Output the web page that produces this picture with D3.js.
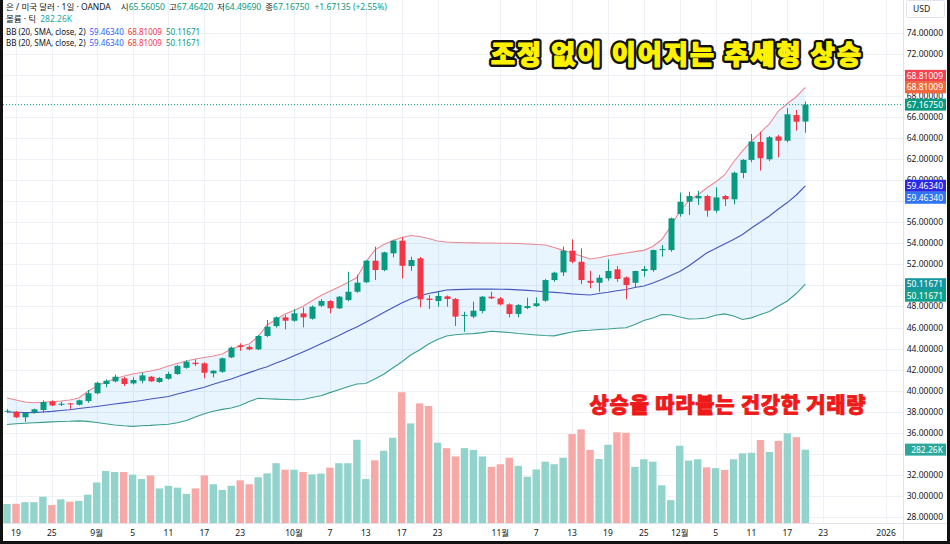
<!DOCTYPE html>
<html>
<head>
<meta charset="utf-8">
<script src="https://cdnjs.cloudflare.com/ajax/libs/d3/7.8.5/d3.min.js"></script>
<style>
  body { margin: 0; background: #fff; }
  svg { display: block; font-family: 'Noto Sans', 'Noto Sans CJK KR', sans-serif; }
</style>
</head>
<body>
<div id="chart"></div>
<script>
// Daily bars, Aug 18 - Dec 19 (index 0..89)
const opens = [38.05, 38.0, 37.48, 37.95, 38.17, 38.99, 38.72, 38.8, 38.67, 39.02,
  39.76, 40.64, 40.89, 41.18, 40.70, 40.95, 41.33, 40.83, 41.14, 41.59,
  42.18, 42.66, 42.6, 41.65, 41.80, 43.17, 44.31, 44.16, 43.93, 45.2,
  46.14, 46.97, 46.65, 47.35, 46.84, 48.07, 48.52, 47.83, 48.61, 49.40,
  50.30, 52.35, 51.46, 53.05, 54.25, 51.84, 52.57, 48.75, 48.52, 48.96,
  48.72, 47.13, 47.04, 47.57, 48.93, 48.76, 48.2, 47.29, 47.86, 48.04,
  48.55, 50.51, 51.24, 53.3, 52.25, 50.44, 50.25, 50.67, 51.53, 50.76,
  50.25, 51.37, 51.46, 53.36, 53.36, 56.78, 57.95, 58.27, 58.49, 57.10,
  58.49, 58.18, 60.68, 61.92, 63.62, 61.98, 64.14, 63.74, 66.18, 65.5605];
const highs = [38.25, 38.08, 37.97, 38.3, 39.09, 39.1, 38.95, 38.85, 39.15, 40.07,
  40.85, 41.08, 41.52, 41.3, 41.27, 41.71, 41.4, 41.3, 41.8, 42.45,
  42.9, 42.98, 42.7, 41.95, 43.15, 44.2, 44.5, 44.3, 45.3, 46.72,
  47.05, 47.19, 47.76, 47.92, 48.1, 48.7, 48.6, 49.0, 51.30, 51.0,
  52.4, 53.68, 53.2, 54.35, 54.57, 52.72, 52.7, 49.08, 49.4, 49.05,
  48.8, 47.5, 48.45, 49.0, 49.4, 48.9, 48.3, 48.23, 48.83, 48.87,
  50.6, 51.3, 53.68, 54.38, 53.52, 51.39, 51.0, 52.48, 51.84, 50.85,
  51.4, 51.84, 53.4, 53.84, 56.45, 58.81, 58.9, 58.99, 58.6, 59.32,
  58.6, 60.8, 62.0, 64.38, 64.6, 64.2, 64.3, 66.82, 66.66, 67.4642];
const lows = [37.9, 37.4, 37.05, 37.85, 37.91, 38.55, 38.55, 38.24, 38.6, 38.86,
  39.66, 40.32, 40.8, 40.45, 40.6, 40.7, 40.85, 40.75, 41.05, 41.5,
  42.1, 42.35, 41.18, 41.27, 41.7, 43.1, 43.8, 43.85, 43.85, 45.1,
  46.0, 45.83, 46.55, 46.02, 46.75, 47.95, 47.35, 47.75, 48.5, 49.3,
  50.2, 50.51, 51.35, 52.67, 50.67, 51.39, 47.92, 47.76, 47.98, 47.98,
  46.15, 45.6, 46.9, 47.35, 48.7, 48.1, 46.97, 46.97, 47.75, 47.95,
  48.45, 50.35, 50.89, 52.1, 50.13, 49.73, 49.4, 50.45, 50.35, 48.68,
  49.82, 50.83, 51.3, 52.73, 53.2, 56.53, 56.69, 57.64, 56.53, 56.9,
  57.54, 57.7, 60.17, 61.7, 60.9, 61.8, 62.17, 63.6, 64.69, 64.4969];
const closes = [38.1, 37.48, 37.91, 38.24, 38.93, 38.61, 38.76, 38.75, 39.09, 39.76,
  40.76, 40.95, 41.33, 40.64, 41.02, 41.46, 40.89, 41.21, 41.59, 42.35,
  42.75, 42.53, 41.71, 41.9, 43.08, 44.09, 44.15, 43.93, 45.2, 46.08,
  46.97, 46.65, 47.35, 46.97, 47.98, 48.52, 47.83, 48.93, 49.40, 50.26,
  52.35, 51.46, 53.14, 54.25, 51.87, 52.41, 48.68, 48.62, 49.0, 48.71,
  47.04, 47.2, 47.6, 48.93, 48.78, 48.2, 47.29, 48.14, 48.04, 48.3,
  50.51, 51.21, 53.30, 52.25, 50.51, 50.25, 50.73, 51.37, 50.61, 50.04,
  51.37, 51.56, 53.36, 53.45, 56.37, 57.95, 58.49, 58.49, 57.10, 58.36,
  58.18, 60.70, 61.92, 63.66, 62.08, 64.07, 63.74, 66.25, 65.55, 67.1675];
// Volume in K ticks
const volumes = [73, 74, 80, 80, 101, 69, 91, 82, 85, 109,
  156, 200, 196, 196, 186, 169, 183, 133, 143, 136,
  112, 133, 183, 149, 127, 143, 164, 149, 176, 191,
  230, 205, 205, 196, 187, 190, 213, 230, 230, 320,
  169, 241, 278, 328, 503, 383, 460, 450, 309, 288,
  256, 288, 281, 256, 216, 226, 251, 220, 178, 206,
  236, 226, 251, 342, 360, 281, 246, 301, 349, 347,
  216, 245, 236, 145, 88, 297, 240, 245, 214, 211,
  204, 245, 268, 270, 319, 273, 316, 345, 330, 282.26];
// Bollinger bands (20, 2)
const bbUpper = [39.31, 39.12, 38.93, 38.86, 38.90, 38.96, 39.02, 39.12, 39.31, 39.92,
  40.45, 40.83, 41.14, 41.37, 41.59, 41.73, 41.87, 42.06, 42.35, 42.58,
  42.82, 43.01, 43.16, 43.30, 43.49, 43.96, 44.22, 44.44, 45.15, 46.24,
  46.77, 47.28, 47.62, 48.03, 48.54, 49.04, 49.44, 49.85, 50.28, 50.75,
  52.22, 53.36, 53.89, 54.25, 54.55, 54.74, 54.64, 54.46, 54.22, 54.12,
  54.08, 54.05, 54.04, 54.03, 54.03, 54.01, 54.00, 53.98, 53.93, 53.89,
  53.84, 53.60, 53.33, 53.08, 52.79, 52.51, 52.63, 52.82, 52.95, 53.08,
  53.21, 53.33, 53.70, 54.36, 55.58, 57.07, 58.02, 58.59, 59.25, 59.82,
  60.49, 61.72, 62.77, 63.71, 64.52, 65.33, 66.56, 67.28, 67.92, 68.81009];
const bbMiddle = [37.98, 37.95, 37.93, 37.92, 37.98, 38.04, 38.12, 38.19, 38.31, 38.41,
  38.51, 38.62, 38.74, 38.85, 38.96, 39.07, 39.21, 39.34, 39.46, 39.69,
  39.91, 40.11, 40.34, 40.61, 40.87, 41.12, 41.42, 41.72, 42.01, 42.28,
  42.63, 42.94, 43.32, 43.68, 44.06, 44.46, 44.85, 45.24, 45.67, 46.05,
  46.51, 46.95, 47.43, 47.87, 48.33, 48.71, 48.99, 49.23, 49.39, 49.56,
  49.60, 49.63, 49.65, 49.66, 49.65, 49.64, 49.63, 49.58, 49.53, 49.47,
  49.40, 49.34, 49.28, 49.20, 49.14, 49.09, 49.23, 49.35, 49.49, 49.62,
  49.80, 49.95, 50.23, 50.56, 50.94, 51.32, 51.84, 52.46, 53.08, 53.51,
  53.93, 54.36, 54.84, 55.45, 56.02, 56.59, 57.26, 57.87, 58.59, 59.4634];
const bbLower = [36.79, 36.86, 36.91, 36.96, 37.00, 37.04, 37.08, 37.10, 37.14, 37.09,
  36.98, 36.86, 36.74, 36.67, 36.62, 36.67, 36.71, 36.77, 36.82, 36.96,
  37.17, 37.50, 37.81, 38.05, 38.23, 38.36, 38.60, 38.98, 39.28, 39.24,
  39.20, 39.17, 39.14, 39.17, 39.35, 39.52, 39.82, 40.10, 40.37, 40.64,
  40.69, 41.11, 41.56, 42.16, 42.73, 43.39, 43.87, 44.44, 44.86, 45.20,
  45.32, 45.39, 45.42, 45.52, 45.65, 45.59, 45.53, 45.44, 45.37, 45.30,
  45.24, 45.21, 45.40, 45.58, 45.71, 45.75, 45.81, 45.86, 45.93, 45.98,
  46.29, 46.67, 46.91, 47.24, 47.21, 47.00, 46.81, 46.84, 46.91, 47.17,
  47.30, 47.09, 46.76, 46.92, 47.24, 47.52, 48.04, 48.52, 49.23, 50.11671];

// Time axis ticks (bar index) and labels
const tickIndex = [1, 5, 10, 14, 18, 22, 26, 32, 36, 40, 44, 48, 55, 59, 63, 67, 71, 75, 79, 83, 87, 91, 98];
const tickLabels = ['19', '25', '9월', '5', '11', '17', '23', '10월', '7', '13', '17', '23',
  '11월', '7', '13', '19', '25', '12월', '5', '11', '17', '23', '2026'];
// Price axis ticks
const priceTicks = d3.range(28, 75, 2);

drawChart();

function drawChart() {
  const w = 950;
  const h = 544;
  const plotLeft = 3;
  const plotRight = 903;
  const plotBottom = 523;

  const up = '#089981';
  const down = '#f23645';

  // Scales
  const xScale = d3.scaleLinear().domain([0, 89]).range([7, 805.3]);
  const yScale = d3.scaleLinear().domain([27.44, 77.105]).range([plotBottom, 0]);
  const volScale = d3.scaleLinear().domain([0, 520]).range([plotBottom, 387.8]);

  const bars = opens.map((o, i) => ({
    i: i, o: o, h: highs[i], l: lows[i], c: closes[i], v: volumes[i],
    up: closes[i] >= o
  }));

  const svg = d3.select('#chart')
      .append('svg')
      .attr('width', w)
      .attr('height', h);

  svg.append('rect').attr('width', w).attr('height', h).attr('fill', '#fff');

  svg.append('clipPath').attr('id', 'plot')
      .append('rect')
      .attr('x', plotLeft).attr('y', 0)
      .attr('width', plotRight - plotLeft).attr('height', plotBottom);

  // Grid
  const grid = svg.append('g').attr('clip-path', 'url(#plot)');
  grid.selectAll('.hg')
      .data(priceTicks)
      .enter()
      .append('line')
      .attr('x1', plotLeft).attr('x2', plotRight)
      .attr('y1', (d) => Math.round(yScale(d)) + 0.5)
      .attr('y2', (d) => Math.round(yScale(d)) + 0.5)
      .attr('stroke', '#eef1f6');
  grid.selectAll('.vg')
      .data(tickIndex)
      .enter()
      .append('line')
      .attr('y1', 0).attr('y2', plotBottom)
      .attr('x1', (d) => Math.round(xScale(d)) + 0.5)
      .attr('x2', (d) => Math.round(xScale(d)) + 0.5)
      .attr('stroke', '#eef1f6');

  const plot = svg.append('g').attr('clip-path', 'url(#plot)');

  // Volume
  plot.selectAll('.vol')
      .data(bars)
      .enter()
      .append('rect')
      .attr('x', (d) => xScale(d.i) - 3.7)
      .attr('width', 7.4)
      .attr('y', (d) => volScale(d.v))
      .attr('height', (d) => plotBottom - volScale(d.v))
      .attr('fill', (d) => d.up ? '#92d3cc' : '#f6a9a7');

  // Bollinger band fill and lines
  const area = d3.area()
      .x((d, i) => xScale(i))
      .y0((d, i) => yScale(bbLower[i]))
      .y1((d) => yScale(d));
  plot.append('path')
      .attr('d', area(bbUpper))
      .attr('fill', 'rgba(33,150,243,0.1)');

  const line = d3.line()
      .x((d, i) => xScale(i))
      .y((d) => yScale(d));
  [[bbUpper, '#eb8a90'], [bbMiddle, '#4656bd'], [bbLower, '#3a9e8f']].forEach(function(s) {
    plot.append('path')
        .attr('d', line(s[0]))
        .attr('fill', 'none')
        .attr('stroke', s[1])
        .attr('stroke-width', 1.1);
  });

  // Current price line
  plot.append('line')
      .attr('x1', plotLeft).attr('x2', plotRight)
      .attr('y1', yScale(67.1675)).attr('y2', yScale(67.1675))
      .attr('stroke', up)
      .attr('stroke-dasharray', '1,2');

  // Candles
  const candle = plot.selectAll('.candle')
      .data(bars)
      .enter()
      .append('g');
  candle.append('line')
      .attr('x1', (d) => Math.round(xScale(d.i)) + 0.5)
      .attr('x2', (d) => Math.round(xScale(d.i)) + 0.5)
      .attr('y1', (d) => yScale(d.h))
      .attr('y2', (d) => yScale(d.l))
      .attr('stroke', (d) => d.up ? up : down);
  candle.append('rect')
      .attr('x', (d) => Math.round(xScale(d.i)) - 2.5)
      .attr('width', 6)
      .attr('y', (d) => yScale(Math.max(d.o, d.c)))
      .attr('height', (d) => Math.max(1, Math.abs(yScale(d.o) - yScale(d.c))))
      .attr('fill', (d) => d.up ? up : down);

  // Axis borders
  svg.append('line')
      .attr('x1', plotRight + 0.5).attr('x2', plotRight + 0.5)
      .attr('y1', 0).attr('y2', h)
      .attr('stroke', '#e0e3eb');
  svg.append('line')
      .attr('x1', 0).attr('x2', w)
      .attr('y1', plotBottom + 0.5).attr('y2', plotBottom + 0.5)
      .attr('stroke', '#e0e3eb');

  // Last value badges
  const fmt = d3.format('.5f');
  const last = bars.length - 1;
  const badges = [
    {y: yScale(bbUpper[last]) - 11.5, t: fmt(bbUpper[last]), c: '#ef4352'},
    {y: yScale(bbUpper[last]), t: fmt(bbUpper[last]), c: '#f2683c'},
    {y: yScale(closes[last]), t: fmt(closes[last]), c: '#089981'},
    {y: yScale(bbMiddle[last]), t: fmt(bbMiddle[last]), c: '#2a2ae4'},
    {y: yScale(bbMiddle[last]) + 12, t: fmt(bbMiddle[last]), c: '#2f74f0'},
    {y: yScale(bbLower[last]), t: fmt(bbLower[last]), c: '#16979f'},
    {y: yScale(bbLower[last]) + 11.5, t: fmt(bbLower[last]), c: '#10a08c'},
    {y: volScale(volumes[last]), t: volumes[last] + 'K', c: '#2aa89c'}
  ];

  // Price axis (labels fully hidden under a badge are skipped)
  const shown = priceTicks.filter((v) =>
    badges.every((b) => Math.abs(b.y - yScale(v)) > 5));
  svg.append('g')
      .selectAll('text')
      .data(shown)
      .enter()
      .append('text')
      .attr('x', 943)
      .attr('y', (d) => yScale(d))
      .attr('dy', '0.35em')
      .attr('text-anchor', 'end')
      .attr('font-size', 8.5)
      .attr('fill', '#131722')
      .text((d) => fmt(d));

  // Time axis
  svg.append('g')
      .selectAll('text')
      .data(tickIndex)
      .enter()
      .append('text')
      .attr('x', (d) => xScale(d))
      .attr('y', 536)
      .attr('text-anchor', 'middle')
      .attr('font-size', 8.5)
      .attr('fill', '#131722')
      .text((d, i) => tickLabels[i]);

  // USD box
  svg.append('rect')
      .attr('x', 906.5).attr('y', 0.5)
      .attr('width', 38).attr('height', 17)
      .attr('rx', 2)
      .attr('fill', '#fff')
      .attr('stroke', '#e0e3eb');
  svg.append('text')
      .attr('x', 913).attr('y', 12)
      .attr('font-size', 8.5)
      .attr('fill', '#131722')
      .text('USD');

  const badge = svg.append('g')
      .selectAll('g')
      .data(badges)
      .enter()
      .append('g');
  badge.append('rect')
      .attr('x', 905)
      .attr('y', (d) => d.y - 6)
      .attr('width', 41)
      .attr('height', 12)
      .attr('fill', (d) => d.c);
  badge.append('text')
      .attr('x', 943)
      .attr('y', (d) => d.y)
      .attr('dy', '0.35em')
      .attr('text-anchor', 'end')
      .attr('font-size', 8.5)
      .attr('fill', '#fff')
      .text((d) => d.t);

  // Legend
  const legend = svg.append('g').attr('font-size', 8.5).attr('fill', '#131722');
  const l1 = legend.append('text').attr('x', 6).attr('y', 10);
  l1.append('tspan').text('은 / 미국 달러 · 1일 · OANDA');
  [['시', opens[last]], ['고', highs[last]], ['저', lows[last]], ['종', closes[last]]].forEach(function(p, k) {
    l1.append('tspan').attr('dx', k === 0 ? 10 : 4).text(p[0]);
    l1.append('tspan').attr('fill', up).text(fmt(p[1]));
  });
  l1.append('tspan').attr('dx', 5).attr('fill', up).text('+1.67135 (+2.55%)');

  const l2 = legend.append('text').attr('x', 6).attr('y', 22);
  l2.append('tspan').text('볼륨 · 틱');
  l2.append('tspan').attr('dx', 4).attr('fill', '#26a69a').text(volumes[last] + 'K');

  [34.5, 46].forEach(function(yy) {
    const l = legend.append('text').attr('x', 6).attr('y', yy).attr('font-size', 8);
    l.append('tspan').text('BB (20, SMA, close, 2)');
    l.append('tspan').attr('dx', 4).attr('fill', '#2962ff').text(fmt(bbMiddle[last]));
    l.append('tspan').attr('dx', 4).attr('fill', '#f23645').text(fmt(bbUpper[last]));
    l.append('tspan').attr('dx', 4).attr('fill', up).text(fmt(bbLower[last]));
  });

  // Annotations (heavy look: outline layer, then fill layer with its own stroke)
  const title = '조정 없이 이어지는 추세형 상승';
  svg.append('text')
      .attr('x', 677).attr('y', 64)
      .attr('text-anchor', 'middle')
      .attr('font-family', 'Noto Sans CJK KR')
      .attr('font-weight', 900)
      .attr('font-size', 26)
      .attr('letter-spacing', 2.2)
      .attr('fill', '#111')
      .attr('stroke', '#111')
      .attr('stroke-width', 6)
      .attr('stroke-linejoin', 'round')
      .text(title);
  svg.append('text')
      .attr('x', 677).attr('y', 64)
      .attr('text-anchor', 'middle')
      .attr('font-family', 'Noto Sans CJK KR')
      .attr('font-weight', 900)
      .attr('font-size', 26)
      .attr('letter-spacing', 2.2)
      .attr('fill', '#fff200')
      .attr('stroke', '#fff200')
      .attr('stroke-width', 1.2)
      .attr('stroke-linejoin', 'round')
      .text(title);

  svg.append('text')
      .attr('x', 728).attr('y', 412)
      .attr('text-anchor', 'middle')
      .attr('font-family', 'Noto Sans CJK KR')
      .attr('font-weight', 900)
      .attr('font-size', 21)
      .attr('letter-spacing', 0.7)
      .attr('fill', '#ee1a1a')
      .attr('stroke', '#ee1a1a')
      .attr('stroke-width', 0.8)
      .attr('stroke-linejoin', 'round')
      .text('상승을 따라붙는 건강한 거래량');

  // Frame
  svg.append('rect').attr('x', 0).attr('y', 0).attr('width', 3).attr('height', h).attr('fill', '#111');
  svg.append('rect').attr('x', w - 3).attr('y', 0).attr('width', 3).attr('height', h).attr('fill', '#111');
  svg.append('rect').attr('x', 0).attr('y', h - 3).attr('width', w).attr('height', 3).attr('fill', '#111');
}
</script>
</body>
</html>
